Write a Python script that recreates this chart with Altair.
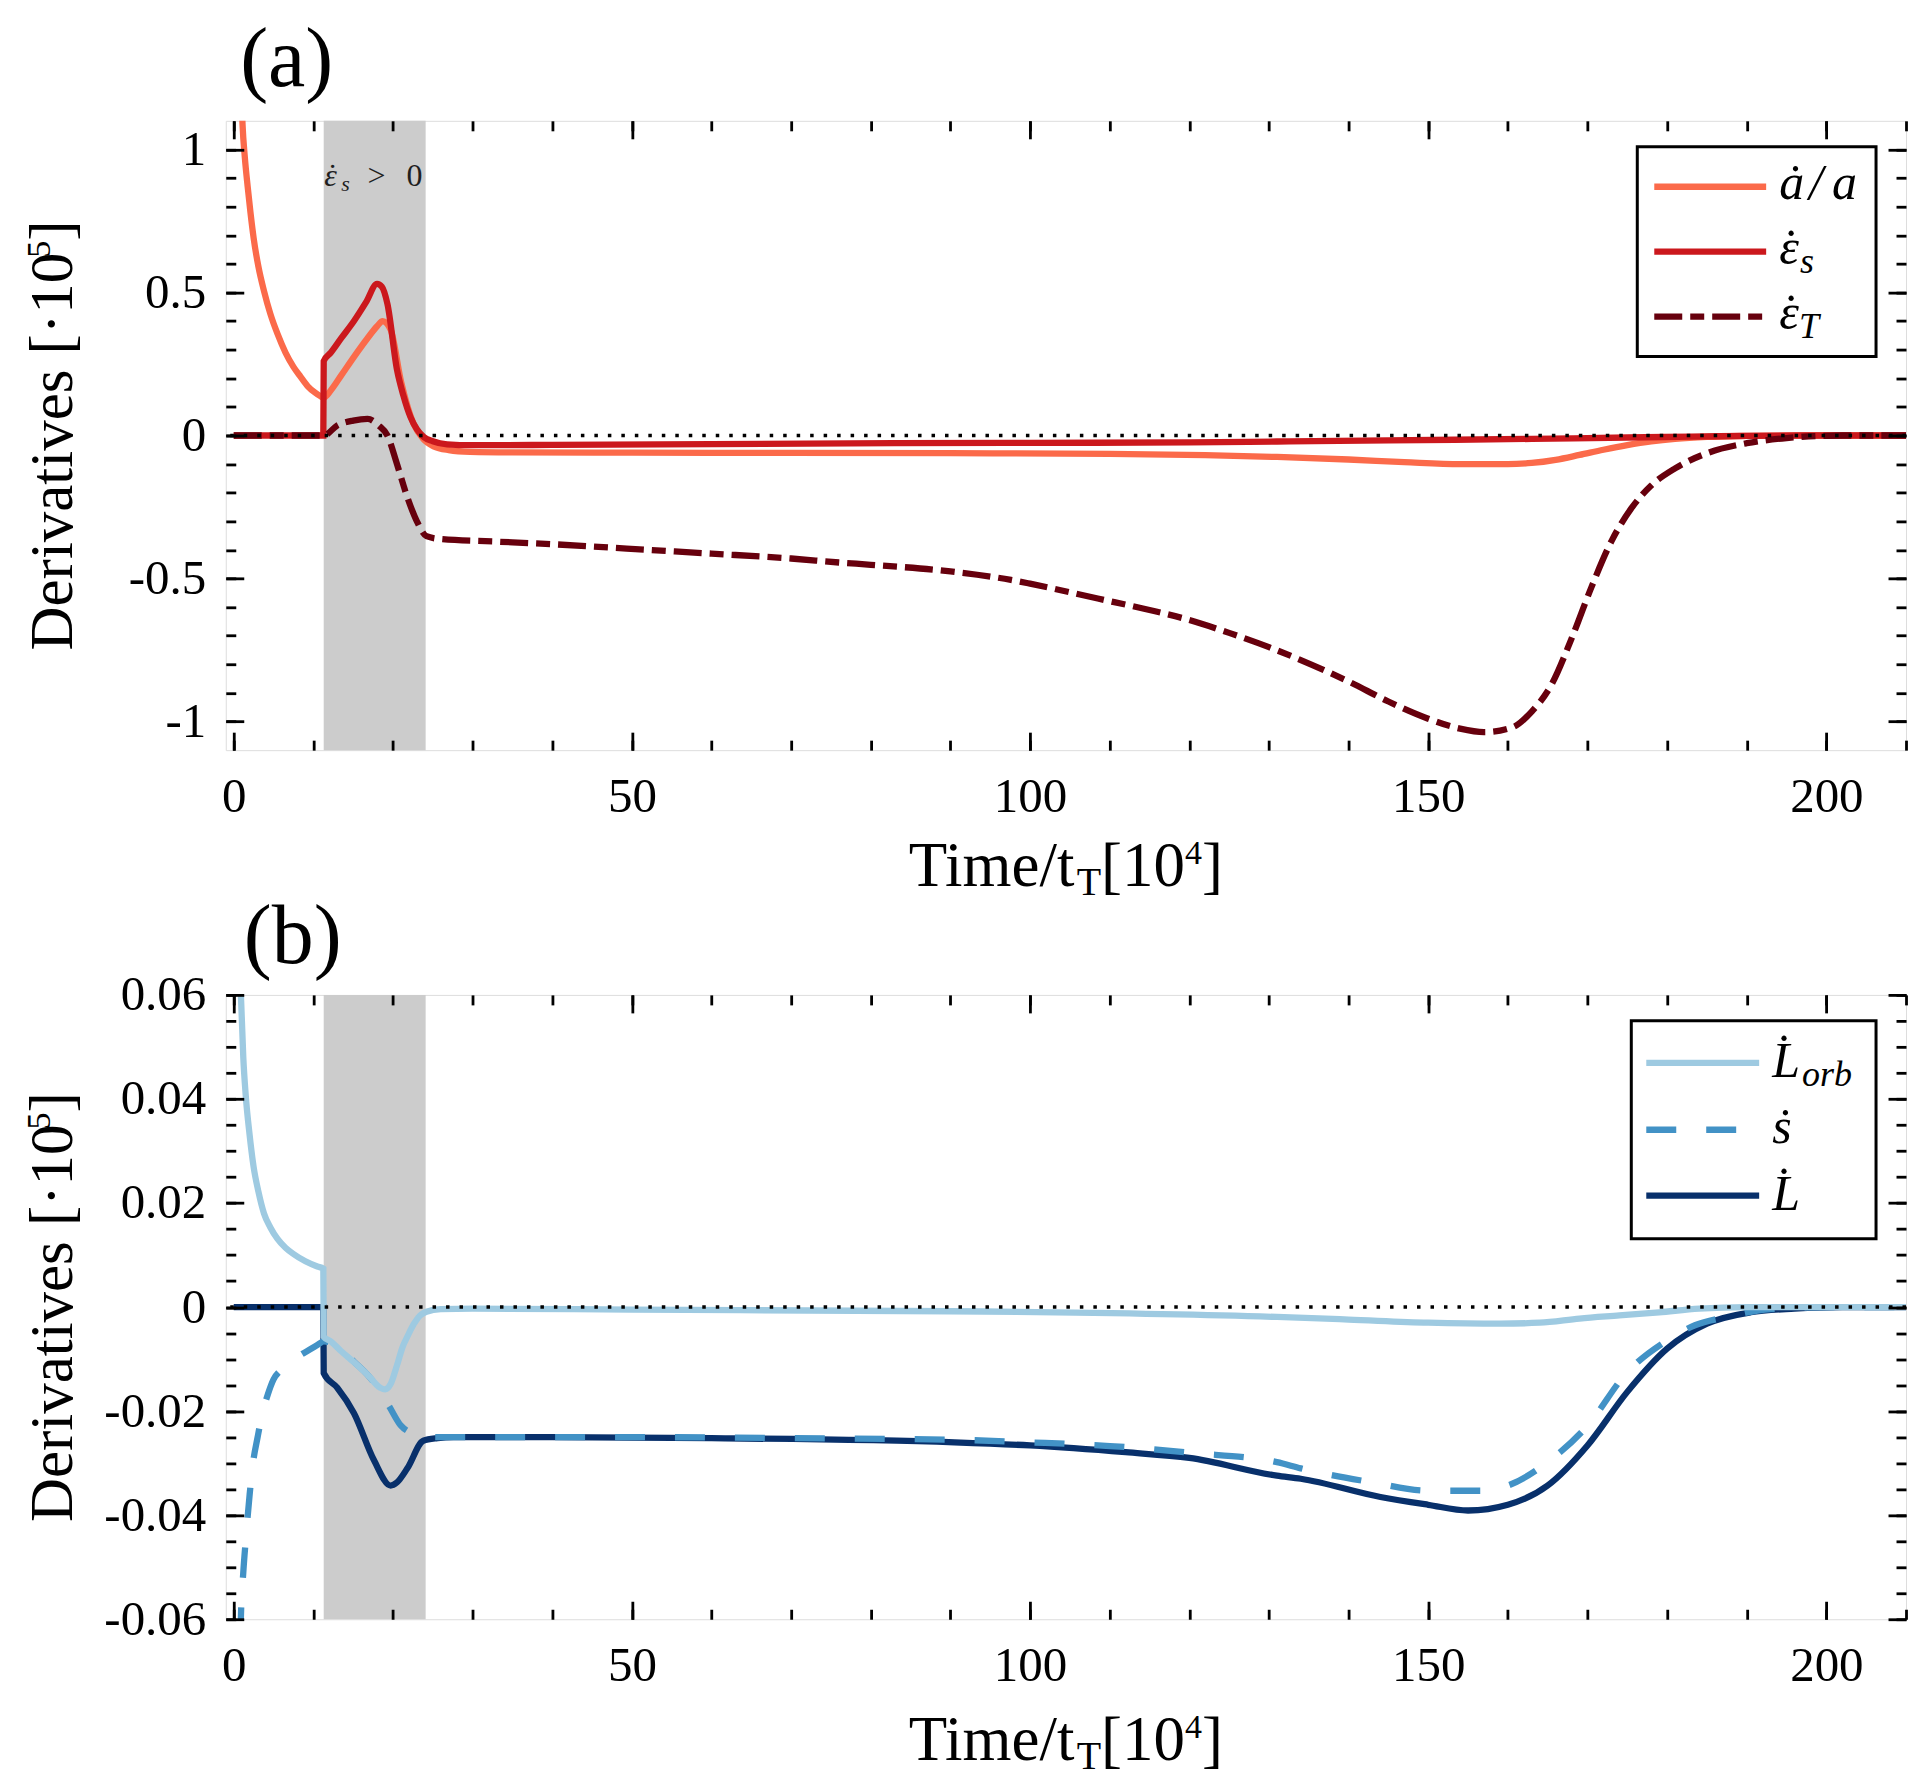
import altair as alt
import pandas as pd

FONT = "Liberation Serif"

# ---------------- panel (a) data ----------------
AA_X = [0.9, 1.1, 1.4, 1.75, 2.1, 2.5, 3.1, 3.8, 4.6, 5.5,
        6.5, 7.5, 8.4, 9.3, 10.2, 10.9, 11.3, 12.2, 13.5, 15.1,
        16.8, 18.0, 18.7, 19.7, 21.0, 22.6, 23.8, 25.1, 27.0, 29.7,
        35, 50, 70, 90, 110, 122, 131, 140, 147, 154,
        160, 163, 166, 169, 172, 175, 178, 181, 185, 190,
        196, 202, 210]
AA_Y = [1.25, 1.09, 0.97, 0.87, 0.78, 0.69, 0.59, 0.505, 0.425, 0.355,
        0.29, 0.24, 0.205, 0.172, 0.15, 0.137, 0.132, 0.158, 0.21, 0.275,
        0.34, 0.382, 0.40, 0.37, 0.19, 0.04, -0.012, -0.038, -0.051, -0.057,
        -0.059, -0.06, -0.061, -0.062, -0.064, -0.069, -0.075, -0.084, -0.093, -0.1,
        -0.1, -0.096, -0.085, -0.068, -0.05, -0.034, -0.021, -0.012, -0.005, -0.0015,
        0.0, 0.0, 0.0]

ES_X = [0, 11.25, 11.3, 12.2, 13.5, 15.1, 16.6, 18.0, 18.6, 19.3,
        20.5, 21.3, 22.2, 23.0, 23.9, 25.0, 26.8, 30, 40, 60,
        83, 100, 120, 131, 145, 163, 175, 183, 190, 200, 210]
ES_Y = [0, 0, 0.26, 0.29, 0.34, 0.40, 0.465, 0.53, 0.52, 0.46,
        0.23, 0.14, 0.064, 0.022, -0.006, -0.02, -0.031, -0.034, -0.033, -0.03,
        -0.027, -0.026, -0.024, -0.021, -0.017, -0.012, -0.007, -0.004, -0.0015, 0, 0]

ET_X = [0, 11.3, 13.0, 15.0, 16.8, 18.2, 19.3, 20.5, 21.8, 23.0,
        24.2, 26.0, 33, 40, 54.5, 60, 70, 76, 80, 90,
        97.6, 100, 108.5, 115, 120, 125, 130, 134, 140, 145,
        150, 154, 157, 160.6, 163, 165.5, 168, 170.5, 173, 175.5,
        178, 181, 185, 190, 195, 202, 210]
ET_Y = [0, 0, 0.035, 0.052, 0.058, 0.035, 0.0, -0.10, -0.216, -0.30,
        -0.352, -0.362, -0.371, -0.38, -0.404, -0.413, -0.43, -0.444, -0.452, -0.475,
        -0.505, -0.518, -0.57, -0.61, -0.645, -0.69, -0.74, -0.785, -0.86, -0.93,
        -0.99, -1.025, -1.037, -1.02, -0.965, -0.87, -0.71, -0.53, -0.37, -0.255,
        -0.175, -0.115, -0.062, -0.027, -0.009, 0, 0]

# ---------------- panel (b) data ----------------
LO_X = [0.6, 0.9, 1.2, 1.5, 2.0, 2.5, 3.1, 3.8, 4.6, 5.5,
        6.5, 7.5, 9.0, 10.5, 11.25, 11.3, 12.2, 13.5, 15.1, 16.8,
        18.4, 19.0, 19.7, 20.5, 21.2, 21.8, 22.6, 23.4, 24.2, 26,
        30, 50, 90, 131, 140, 150, 159, 164, 169, 174,
        179, 184, 190, 200, 210]
LO_Y = [0.075, 0.06, 0.048, 0.0408, 0.033, 0.0269, 0.0222, 0.018, 0.0153, 0.0131,
        0.0114, 0.0102, 0.0088, 0.0078, 0.0074, -0.0057, -0.0066, -0.0085, -0.0106, -0.013,
        -0.0155, -0.0158, -0.0148, -0.0112, -0.0077, -0.0057, -0.0033, -0.0016, -0.0009, -0.0004,
        -0.0003, -0.0005, -0.0008, -0.0019, -0.0024, -0.003, -0.0032, -0.003, -0.0022, -0.0016,
        -0.001, -0.0003, 0, 0, 0]

SD_X = [0.7, 0.9, 1.2, 1.5, 2.0, 2.4, 3.0, 3.6, 4.3, 5.0,
        6.0, 7.2, 8.3, 9.4, 10.5, 11.3, 12.2, 14.0, 15.1, 16.8,
        18.4, 19.5, 21.0, 22.3, 23.8, 25.6, 30, 50, 70, 90.5,
        100, 112, 120, 131, 134, 143, 150, 157, 160, 165,
        170, 175, 180, 183.5, 187.5, 193, 200, 210]
SD_Y = [-0.075, -0.0596, -0.051, -0.0449, -0.036, -0.0302, -0.025, -0.0204, -0.0167, -0.0139,
        -0.012, -0.0106, -0.0093, -0.0083, -0.0073, -0.0066, -0.0068, -0.0088, -0.0105, -0.013,
        -0.0162, -0.019, -0.0228, -0.0242, -0.0249, -0.025, -0.025, -0.025, -0.0252, -0.0255,
        -0.026, -0.0269, -0.028, -0.0298, -0.031, -0.0337, -0.0353, -0.0353, -0.0343, -0.0298,
        -0.0228, -0.0125, -0.0064, -0.0035, -0.0019, -0.0004, 0, 0]

LD_X = [0, 11.25, 11.3, 13.0, 15.1, 17.6, 19.7, 20.5, 21.8, 23.8,
        25.6, 27.6, 40, 60, 90.5, 100, 112, 120, 131, 134,
        144, 150, 155, 160, 165, 170, 175, 180, 185, 190.5,
        196, 202, 210]
LD_Y = [0, 0, -0.0127, -0.0155, -0.0204, -0.0294, -0.0343, -0.0337, -0.031, -0.0257,
        -0.0252, -0.025, -0.025, -0.0252, -0.026, -0.0266, -0.0279, -0.029, -0.0324, -0.033,
        -0.0365, -0.038, -0.0391, -0.038, -0.0343, -0.0266, -0.0163, -0.008, -0.0032, -0.001,
        -0.0003, 0, 0]

for _a, _b in [(AA_X, AA_Y), (ES_X, ES_Y), (ET_X, ET_Y), (LO_X, LO_Y), (SD_X, SD_Y), (LD_X, LD_Y)]:
    assert len(_a) == len(_b)

SHADE_X = [11.3]
SHADE_X2 = [24.1]

X_DOMAIN = [-1, 210]
YA_DOMAIN = [-1.1, 1.1]
YB_DOMAIN = [-0.06, 0.06]
X_MAJOR = [0, 50, 100, 150, 200]
X_MINOR = [0, 10, 20, 30, 40, 50, 60, 70, 80, 90, 100, 110, 120, 130, 140, 150,
           160, 170, 180, 190, 200, 210]
YA_MAJOR = [-1, -0.5, 0, 0.5, 1]
YA_MINOR = [-1.0, -0.9, -0.8, -0.7, -0.6, -0.5, -0.4, -0.3, -0.2, -0.1, 0.0,
            0.1, 0.2, 0.3, 0.4, 0.5, 0.6, 0.7, 0.8, 0.9, 1.0]
YB_MAJOR = [-0.06, -0.04, -0.02, 0, 0.02, 0.04, 0.06]
YB_MINOR = [-0.06, -0.055, -0.05, -0.045, -0.04, -0.035, -0.03, -0.025, -0.02, -0.015,
            -0.01, -0.005, 0.0, 0.005, 0.01, 0.015, 0.02, 0.025, 0.03, 0.035, 0.04,
            0.045, 0.05, 0.055, 0.06]

COL_AA, COL_ES, COL_ET = "#fb6a4a", "#cb181d", "#67000d"
COL_LO, COL_SD, COL_LD = "#9ecae1", "#4292c6", "#08306b"
DASH_ET = [28, 8, 14, 8]
DASH_SD = [30, 30]

W, HA, HB = 1682, 630, 625
LW = 6.3

ONE = pd.DataFrame({"x": [0.0], "y": [0.0]})
XS = alt.Scale(domain=X_DOMAIN, nice=False, zero=False)

ROMAN = {" ": 250, "(": 333, ")": 333, "/": 278, "[": 333, "]": 333, "\u00b7": 250,
         ">": 564, "D": 722, "T": 611, "a": 444, "b": 500, "e": 444, "i": 278,
         "m": 778, "r": 333, "s": 389, "t": 278, "v": 500}
ITAL = {"a": 500, "b": 500, "o": 500, "r": 389, "s": 389, "T": 556, "L": 556,
        "/": 278, "\u03b5": 440}


def tw(s, size, italic=False):
    table = ITAL if italic else ROMAN
    return sum(table.get(ch, 500) for ch in s) * size / 1000.0


def txt(x, y, s, size, dx=0.0, dy=0.0, italic=False, align="left", angle=None, color="black"):
    kw = dict(text=s, font=FONT, fontSize=size, align=align, baseline="alphabetic", color=color)
    if dx:
        kw["dx"] = dx
    if dy:
        kw["dy"] = dy
    if italic:
        kw["fontStyle"] = "italic"
    if angle is not None:
        kw["angle"] = angle
    return alt.Chart(ONE).mark_text(**kw).encode(x=alt.value(x), y=alt.value(y))


def run(x, y, pieces, angle=None):
    total = sum(tw(t, s, it) for t, s, dy, it in pieces)
    off = -total / 2.0
    out = []
    for t, s, dy, it in pieces:
        if angle is None:
            out.append(txt(x + off, y + dy, t, s, italic=it))
        else:
            out.append(txt(x, y, t, s, dx=off, dy=dy, italic=it, angle=angle))
        off += tw(t, s, it)
    return out


def label_axis_x():
    return alt.Axis(orient="bottom", values=X_MAJOR, ticks=False, tickSize=0, domain=False,
                    grid=False, labelFont=FONT, labelFontSize=49, labelColor="black",
                    labelPadding=22, labelFlush=False, labelOverlap=False, format="d")


def label_axis_y(vals):
    return alt.Axis(orient="left", values=vals, ticks=False, tickSize=0, domain=False,
                    grid=False, labelFont=FONT, labelFontSize=49, labelColor="black",
                    labelPadding=20, labelFlush=False, labelOverlap=False,
                    labelExpr="datum.value < 0 ? '-' + format(-datum.value, '~g') : format(datum.value, '~g')")


def tick_axis(orient, vals, size):
    return alt.Axis(orient=orient, values=vals, labels=False, domain=False, grid=False,
                    ticks=True, tickSize=size, tickWidth=2.8, tickColor="black",
                    offset=-size, zindex=1)


def panel(series, ydom, ymaj, ymin, H, legend_spec, extra):
    Y = alt.Scale(domain=ydom, nice=False, zero=False)
    layers = []
    layers.append(alt.Chart(pd.DataFrame({"x0": SHADE_X, "x1": SHADE_X2})).mark_rect(color="#cccccc").encode(
        x=alt.X("x0:Q", scale=XS, axis=None), x2="x1:Q"))

    def carrier(xa, ya):
        return alt.Chart(ONE).mark_point(opacity=0).encode(
            x=alt.X("x:Q", scale=XS, axis=xa, title=None),
            y=alt.Y("y:Q", scale=Y, axis=ya, title=None))

    layers.append(carrier(label_axis_x(), label_axis_y(ymaj)))
    layers.append(carrier(tick_axis("bottom", X_MAJOR, 18), tick_axis("left", ymaj, 18)))
    layers.append(carrier(tick_axis("bottom", X_MINOR, 10), tick_axis("left", ymin, 10)))
    layers.append(carrier(tick_axis("top", X_MAJOR, 18), tick_axis("right", ymaj, 18)))
    layers.append(carrier(tick_axis("top", X_MINOR, 10), tick_axis("right", ymin, 10)))

    for xs, ys, col, dash in series:
        kw = dict(color=col, strokeWidth=LW, clip=True, interpolate="monotone")
        if dash:
            kw["strokeDash"] = dash
        layers.append(alt.Chart(pd.DataFrame({"x": xs, "y": ys})).mark_line(**kw).encode(
            x=alt.X("x:Q", scale=XS, axis=None), y=alt.Y("y:Q", scale=Y, axis=None)))

    layers.append(alt.Chart(pd.DataFrame({"y": [0.0]})).mark_rule(
        color="black", strokeWidth=3.5, strokeDash=[3.5, 10]).encode(
        y=alt.Y("y:Q", scale=Y, axis=None)))

    # legend
    (bx1, bx2, by1, by2), (sx1, sx2), lx, rows = legend_spec
    layers.append(alt.Chart(ONE).mark_rect(fill="white", stroke="black", strokeWidth=3).encode(
        x=alt.value(bx1), x2=alt.value(bx2), y=alt.value(by1), y2=alt.value(by2)))
    for ry, base, col, dash, pieces in rows:
        kw = dict(color=col, strokeWidth=LW)
        if dash:
            kw["strokeDash"] = dash
        layers.append(alt.Chart(ONE).mark_rule(**kw).encode(
            x=alt.value(sx1), x2=alt.value(sx2), y=alt.value(ry)))
        for t, size, dx, dy, it, al in pieces:
            layers.append(txt(lx + dx, base + dy, t, size, italic=it, align=al))

    # axis titles
    layers += run(W / 2.0, 766, [("Time/t", 63, 0, False), ("T", 40, 9, False),
                                 ("[10", 63, 0, False), ("4", 34, -22, False), ("]", 63, 0, False)])
    layers += run(-154, H / 2.0, [("Derivatives [\u00b710", 61, 0, False), ("5", 34, -22, False),
                                  ("]", 61, 0, False)], angle=270)
    layers += extra
    return alt.layer(*layers).properties(width=W, height=H).resolve_axis(x="independent", y="independent")


D = "\u0307"      # combining dot above (time derivative) for latin letters
DOT = "\u02d9"    # spacing dot above, placed by hand over the Greek epsilon
EPS = "\u03b5"

legend_a = ((1413, 1652, 26, 236), (1430, 1542), 1555, [
    (66, 78.5, COL_AA, None, [("a" + D, 50, 0, 0, True, "left"), ("/", 50, 30, 0, True, "left"),
                              ("a", 50, 53, 0, True, "left")]),
    (131, 143.5, COL_ES, None, [(EPS, 50, 0, 0, True, "left"), (DOT, 50, 12, 0, False, "center"),
                                ("s", 36, 21, 9, True, "left")]),
    (196, 208.5, COL_ET, DASH_ET, [(EPS, 50, 0, 0, True, "left"), (DOT, 50, 12, 0, False, "center"),
                                   ("T", 36, 20, 9, True, "left")]),
])

legend_b = ((1407, 1652, 26, 244), (1422, 1535), 1548, [
    (68, 82, COL_LO, None, [("L" + D, 50, 0, 0, True, "left"), ("orb", 36, 30, 9, True, "left")]),
    (135, 148, COL_SD, DASH_SD, [("s" + D, 50, 0, 0, True, "left")]),
    (201, 215, COL_LD, None, [("L" + D, 50, 0, 0, True, "left")]),
])

ANN = "#1f1f1f"
extra_a = [
    txt(61, -35, "(a)", 84, align="center"),
    txt(105, 65, EPS, 32, italic=True, align="center", color=ANN),
    txt(107, 65, DOT, 32, align="center", color=ANN),
    txt(120, 70, "s", 22, italic=True, align="center", color=ANN),
    txt(151, 65, ">", 32, align="center", color=ANN),
    txt(189, 65, "0", 32, align="center", color=ANN),
]
extra_b = [txt(67, -32, "(b)", 84, align="center")]

pa = panel([(AA_X, AA_Y, COL_AA, None), (ES_X, ES_Y, COL_ES, None), (ET_X, ET_Y, COL_ET, DASH_ET)],
           YA_DOMAIN, YA_MAJOR, YA_MINOR, HA, legend_a, extra_a)
pb = panel([(LD_X, LD_Y, COL_LD, None), (SD_X, SD_Y, COL_SD, DASH_SD), (LO_X, LO_Y, COL_LO, None)],
           YB_DOMAIN, YB_MAJOR, YB_MINOR, HB, legend_b, extra_b)

chart = alt.vconcat(pa, pb, spacing=245, bounds="flush").properties(
    padding={"left": 14, "top": 9, "right": 3, "bottom": 5}
).configure_view(stroke="black", strokeWidth=3).configure(background="white")

chart.save("out.html", embed_options={"renderer": "svg", "actions": False})
